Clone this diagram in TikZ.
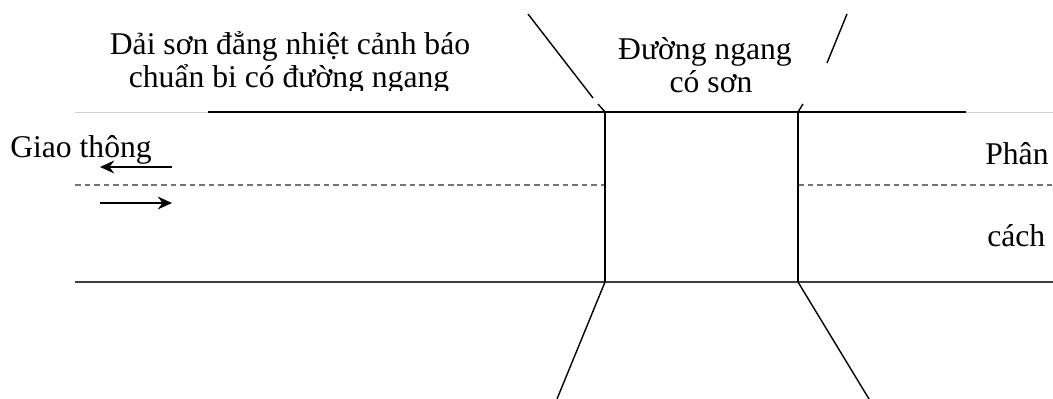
\documentclass[tikz,border=0pt]{standalone}
\usepackage{fontspec}
\setmainfont{Liberation Serif}
\usetikzlibrary{arrows.meta}
\definecolor{edgegray}{rgb}{0.82,0.82,0.82}
\definecolor{dashgray}{rgb}{0.45,0.45,0.45}

\begin{document}
\begin{tikzpicture}[
    x=0.025cm, y=-0.025cm,
    road/.style={draw, line width=1.2pt},
    roadedge/.style={draw, edgegray, line width=0.7pt},
    centre/.style={draw, dashgray, line width=1.3pt, dash pattern=on 4pt off 2.8pt},
    lead/.style={draw, line width=1pt},
    flow/.style={draw, line width=1.8pt, -{Stealth[length=10pt,width=9pt]}},
    lbl/.style={inner sep=0pt, anchor=base, align=center, font=\fontsize{22.5}{23.5}\selectfont}
]
    \useasboundingbox (0,0) rectangle (1053,399);

    % mep duong
    \coordinate (tl) at (75,112);
    \coordinate (tb) at (208,112);
    \coordinate (te) at (966,112);
    \coordinate (tr) at (1053,112);
    \coordinate (bl) at (75,282);
    \coordinate (br) at (1053,282);
    \path[roadedge] (tl) -- (tb);
    \path[road] (tb) -- (te);
    \path[roadedge] (te) -- (tr);
    \path[draw, black!75, line width=1.8pt] (bl) -- (br);

    % vach giua
    \coordinate (cl) at (75,185);
    \coordinate (cr) at (1053,185);
    \coordinate (xa) at (605,112);
    \coordinate (xb) at (798,112);
    \coordinate (xc) at (605,282);
    \coordinate (xd) at (798,282);
    \path[centre] (cl) -- (xa |- cl);
    \path[centre] (xb |- cr) -- (cr);

    % duong ngang
    \path[road] (xa) -- (xc);
    \path[road] (xb) -- (xd);

    % duong dan nhan
    \path[lead] (528,14) -- (593,98);
    \path[lead] (598,104) -- (xa);
    \path[lead] (847,14) -- (827,63);
    \path[lead] (803,104) -- (xb);
    \path[lead] (xc) -- (557,399);
    \path[lead] (xd) -- (869,399);

    % chieu xe chay
    \path[flow] (172,167) -- (100,167);
    \path[flow] (100,203) -- (172,203);

    % nhan
    \node[lbl] (dai1) at (290,55) {Dải sơn đẳng nhiệt cảnh báo};
    \begin{scope}
        \clip (100,60) rectangle (480,91);
        \node[lbl] (dai2) at (289,88) {chuẩn bi có đường ngang};
    \end{scope}
    \node[lbl] (ngang1) at (705,60) {Đường ngang};
    \node[lbl] (ngang2) at (711,93) {có sơn};
    \node[lbl, anchor=base west] (giao) at (10,158) {Giao thông};
    \node[lbl, anchor=base west] (phan) at (985,165) {Phân};
    \node[lbl, anchor=base west] (cach) at (987,247) {cách};
\end{tikzpicture}
\end{document}
